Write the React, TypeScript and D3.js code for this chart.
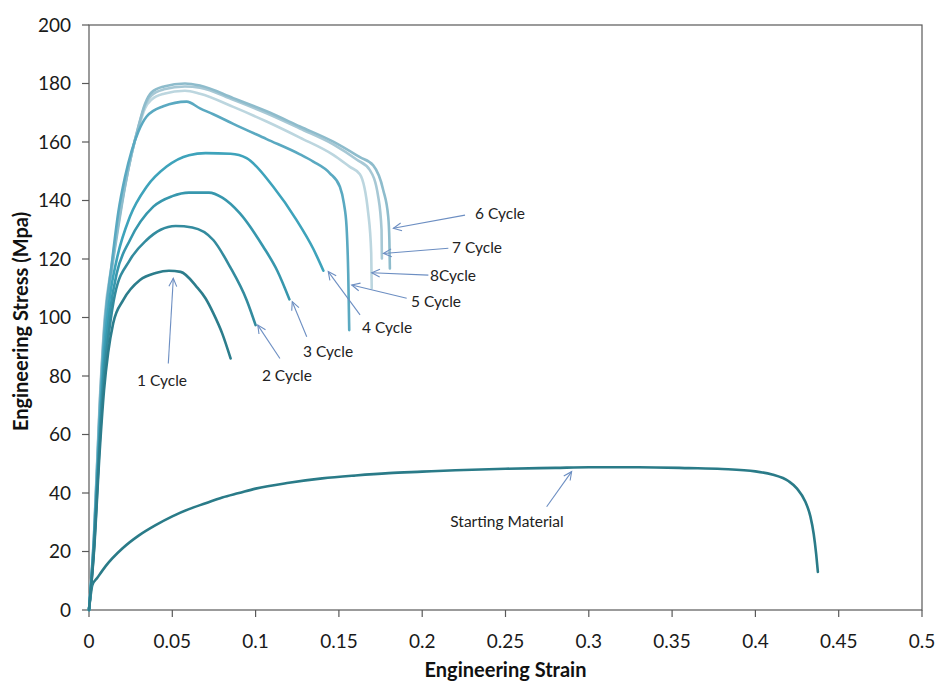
import React from "react";
import * as d3 from "d3";

type Pt = [number, number];

const xTicks = [0, 0.05, 0.1, 0.15, 0.2, 0.25, 0.3, 0.35, 0.4, 0.45, 0.5];
const yTicks = [0, 20, 40, 60, 80, 100, 120, 140, 160, 180, 200];

const startingMaterial: Pt[] = [
  [0, 0], [0.001, 5], [0.002, 8.5], [0.005, 11], [0.01, 15], [0.02, 21], [0.03, 25.5],
  [0.04, 29], [0.05, 32], [0.06, 34.5], [0.07, 36.5], [0.08, 38.5], [0.09, 40], [0.1, 41.5],
  [0.12, 43.5], [0.14, 45], [0.16, 46], [0.18, 46.8], [0.2, 47.3], [0.22, 47.8], [0.25, 48.3],
  [0.28, 48.6], [0.3, 48.8], [0.33, 48.8], [0.36, 48.5], [0.38, 48.2], [0.4, 47.4], [0.41, 46.3],
  [0.42, 44], [0.425, 41.5], [0.43, 37], [0.433, 32], [0.435, 26], [0.4365, 19], [0.4375, 13],
];

const cycle1: Pt[] = [
  [0, 0], [0.003, 20], [0.0065, 55], [0.009, 75], [0.0115, 88], [0.0145, 98], [0.0206, 106],
  [0.0306, 112.8], [0.04, 115.2], [0.048, 116], [0.055, 115.6], [0.0646, 110.5], [0.07, 106.5],
  [0.0746, 101.5], [0.08, 94.5], [0.085, 86],
];

const cycle2: Pt[] = [
  [0, 0], [0.003, 21], [0.0065, 58], [0.009, 80], [0.012, 95], [0.0156, 108], [0.0246, 119.7],
  [0.0346, 126.5], [0.043, 130], [0.052, 131.3], [0.062, 130.8], [0.0746, 126.5], [0.0846, 117.4],
  [0.0946, 106], [0.1, 97.4],
];

const cycle3: Pt[] = [
  [0, 0], [0.003, 22], [0.0065, 60], [0.009, 84], [0.0125, 102], [0.0166, 115], [0.0246, 126.5],
  [0.0386, 137.9], [0.05, 141.5], [0.06, 142.7], [0.072, 142.7], [0.08, 141], [0.0906, 135.6],
  [0.1046, 124.2], [0.113, 116], [0.1203, 106.2],
];

const cycle4: Pt[] = [
  [0, 0], [0.003, 23], [0.0065, 62], [0.009, 88], [0.0125, 107], [0.0166, 119.7], [0.0246, 134.5],
  [0.0346, 144.7], [0.0466, 151.6], [0.06, 155.5], [0.07, 156.2], [0.085, 156], [0.0946, 154.5],
  [0.1106, 144.7], [0.1246, 133.3], [0.1346, 123.5], [0.1407, 116],
];

const cycle5: Pt[] = [
  [0, 0], [0.003, 24], [0.0065, 68], [0.0096, 98], [0.0136, 118], [0.0176, 136], [0.0216, 148],
  [0.0256, 157], [0.0296, 163.5], [0.0346, 168.7], [0.0446, 172.2], [0.0586, 173.8], [0.0666, 171.5],
  [0.0746, 169.5], [0.0866, 166.2], [0.1066, 161], [0.1266, 155.8], [0.1346, 153.3], [0.1446, 149.3],
  [0.1506, 144.7], [0.153, 139], [0.1546, 131], [0.1556, 115], [0.1562, 95.7],
];

const cycle6: Pt[] = [
  [0, 0], [0.003, 25], [0.0065, 70], [0.0096, 99], [0.0136, 116], [0.0176, 131], [0.0216, 144.7],
  [0.0256, 156], [0.0296, 165.2], [0.0336, 173], [0.0376, 177], [0.045, 179], [0.0576, 180],
  [0.0666, 179.3], [0.0866, 175], [0.1066, 170.5], [0.1266, 165.3], [0.1466, 160.1], [0.1626, 154.8],
  [0.1706, 152], [0.1766, 143.6], [0.1796, 134.5], [0.1803, 126.5], [0.1806, 116.8],
];

const cycle7: Pt[] = [
  [0, 0], [0.003, 25], [0.0065, 71], [0.0096, 100], [0.0136, 117], [0.0176, 132], [0.0216, 145],
  [0.0256, 156], [0.0296, 165], [0.0336, 172.5], [0.0376, 176], [0.045, 178], [0.0576, 179],
  [0.0666, 178.6], [0.0866, 174.4], [0.1066, 169.8], [0.1266, 164.6], [0.1466, 159.2], [0.1606, 154],
  [0.1686, 150.4], [0.1736, 141.3], [0.1756, 130], [0.1758, 120.2],
];

const cycle8: Pt[] = [
  [0, 0], [0.003, 26], [0.0065, 72], [0.0096, 101], [0.0136, 118], [0.0176, 133], [0.0216, 145.5],
  [0.0256, 156], [0.0296, 164.5], [0.0336, 171.5], [0.0376, 174.5], [0.045, 176.5], [0.0576, 177.5],
  [0.0666, 176.5], [0.0866, 172], [0.1066, 167], [0.1266, 161.5], [0.1466, 155.6], [0.1566, 151.5],
  [0.1626, 149], [0.1676, 135.7], [0.1694, 122], [0.1697, 110],
];

const seriesNames = ["Starting Material", "8 Cycle", "7 Cycle", "6 Cycle", "5 Cycle", "4 Cycle", "3 Cycle", "2 Cycle", "1 Cycle"];
const seriesData = [startingMaterial, cycle8, cycle7, cycle6, cycle5, cycle4, cycle3, cycle2, cycle1];
const seriesColors = ["#2a7b88", "#bcd6df", "#a7c8d5", "#8ebccc", "#5aa9c1", "#3ea3bb", "#3797ad", "#338b9e", "#2c7d8c"];

// annotation: label, arrow tip (data), arrow tail (data), text center (data)
const annLabels = ["1 Cycle", "2 Cycle", "3 Cycle", "4 Cycle", "5 Cycle", "8Cycle", "7 Cycle", "6 Cycle", "Starting Material"];
const annTips: Pt[] = [[0.0506, 113.4], [0.1013, 97.4], [0.122, 105.4], [0.1436, 115.7], [0.1577, 111.1], [0.1697, 115.3], [0.1767, 121.9], [0.1827, 130.5], [0.2897, 47.3]];
const annTails: Pt[] = [[0.0476, 84.3], [0.1146, 86.0], [0.1307, 93.4], [0.1627, 100.9], [0.1907, 106.6], [0.2037, 114.5], [0.2157, 123.7], [0.2257, 135], [0.2747, 35.3]];
const annText: Pt[] = [[0.0438, 78.6], [0.1188, 80.3], [0.1435, 88.2], [0.1789, 96.4], [0.2083, 105.3], [0.2185, 114.2], [0.2329, 123.8], [0.2467, 135.4], [0.2509, 30.4]];

const W = 938;
const H = 684;
const FONT = "Lato, 'Open Sans', sans-serif";

export default function App() {
  const x = d3.scaleLinear().domain([0, 0.5]).range([89, 922]);
  const y = d3.scaleLinear().domain([0, 200]).range([610, 25]);
  const line = d3
    .line<Pt>()
    .x((d) => x(d[0]))
    .y((d) => y(d[1]))
    .curve(d3.curveMonotoneX);

  const arrowColor = "#6c8ec2";

  return (
    <svg width={W} height={H} style={{ position: "absolute", left: 0, top: 0, background: "#fff" }}>
      <rect x={0} y={0} width={W} height={H} fill="#fff" />
      <rect x={x(0)} y={y(200)} width={x(0.5) - x(0)} height={y(0) - y(200)} fill="none" stroke="#595959" strokeWidth={1.2} />
      {yTicks.map((t) => (
        <g key={"y" + t}>
          <line x1={x(0) - 7} x2={x(0)} y1={y(t)} y2={y(t)} stroke="#595959" strokeWidth={1.2} />
          <text x={x(0) - 18} y={y(t)} dy="0.35em" textAnchor="end" fontFamily={FONT} fontSize={19} fill="#1a1a1a">
            {t}
          </text>
        </g>
      ))}
      {xTicks.map((t) => (
        <g key={"x" + t}>
          <line x1={x(t)} x2={x(t)} y1={y(0)} y2={y(0) + 7} stroke="#595959" strokeWidth={1.2} />
          <text x={x(t)} y={y(0) + 31} dy="0.35em" textAnchor="middle" fontFamily={FONT} fontSize={19} fill="#1a1a1a">
            {String(t)}
          </text>
        </g>
      ))}
      <text x={(x(0) + x(0.5)) / 2} y={677} textAnchor="middle" fontFamily={FONT} fontWeight="bold" fontSize={20} fill="#111">
        Engineering Strain
      </text>
      <text
        transform={`translate(28, ${(y(0) + y(200)) / 2 + 4}) rotate(-90)`}
        textAnchor="middle"
        fontFamily={FONT}
        fontWeight="bold"
        fontSize={20}
        fill="#111"
      >
        Engineering Stress (Mpa)
      </text>

      {seriesData.map((d, i) => (
        <path key={seriesNames[i]} d={line(d) || ""} fill="none" stroke={seriesColors[i]} strokeWidth={2.6} strokeLinejoin="round" strokeLinecap="round" />
      ))}

      {annLabels.map((lab, i) => {
        const tx = x(annTips[i][0]);
        const ty = y(annTips[i][1]);
        const sx = x(annTails[i][0]);
        const sy = y(annTails[i][1]);
        const ang = Math.atan2(sy - ty, sx - tx);
        const L = 9;
        const a1 = ang + 0.45;
        const a2 = ang - 0.45;
        const head = `M${tx + L * Math.cos(a1)},${ty + L * Math.sin(a1)} L${tx},${ty} L${tx + L * Math.cos(a2)},${ty + L * Math.sin(a2)}`;
        return (
          <g key={lab}>
            <line x1={sx} y1={sy} x2={tx} y2={ty} stroke={arrowColor} strokeWidth={1.1} />
            <path d={head} fill="none" stroke={arrowColor} strokeWidth={1.1} />
            <text x={x(annText[i][0])} y={y(annText[i][1])} dy="0.35em" textAnchor="middle" fontFamily={FONT} fontSize={15.5} fill="#222">
              {lab}
            </text>
          </g>
        );
      })}
    </svg>
  );
}
